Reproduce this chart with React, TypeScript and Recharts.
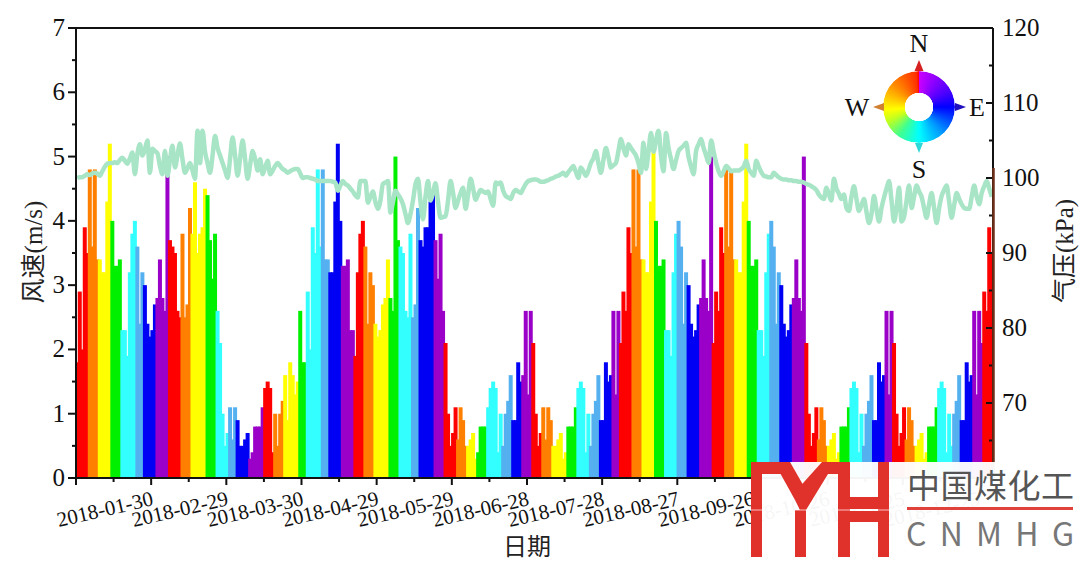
import React from "react";
import { ComposedChart, Bar, Line, XAxis, YAxis } from "recharts";

const windSpeed = [
  1.8,2.9,2.0,3.9,3.5,4.8,3.6,4.8,3.4,3.4,
  3.2,3.2,4.3,5.2,4.0,3.3,3.3,3.4,2.3,2.3,
  1.9,3.2,3.8,4.0,3.6,2.4,3.2,3.0,2.4,2.2,
  2.3,2.7,2.8,3.4,2.8,2.6,5.0,3.7,3.6,3.5,
  2.6,2.5,3.8,2.5,2.7,4.2,3.8,4.6,3.5,3.8,
  3.9,4.5,4.4,3.7,3.1,3.8,2.6,2.1,1.0,0.5,
  0.7,1.1,0.6,1.1,0.9,0.5,0.5,0.6,0.7,0.3,
  0.4,0.8,0.8,0.8,1.1,1.4,1.5,1.4,0.4,1.0,
  0.5,1.0,1.2,1.6,0.9,1.8,1.6,1.3,1.5,2.6,
  1.8,1.8,2.9,2.0,3.9,3.5,4.8,3.6,4.8,3.4,
  3.4,3.2,3.2,4.3,5.2,4.0,3.3,3.3,3.4,2.3,
  2.3,1.9,3.2,3.8,4.0,3.6,2.4,3.2,3.0,2.4,
  2.2,2.3,2.7,2.8,3.4,2.8,2.6,5.0,3.7,3.6,
  3.5,2.6,2.5,3.8,2.5,2.7,4.2,3.7,3.6,3.9,
  3.9,4.3,4.4,3.7,3.1,3.8,2.6,2.1,1.0,0.5,
  0.7,1.1,0.6,1.1,0.9,0.5,0.5,0.6,0.7,0.3,
  0.4,0.8,0.8,0.8,1.1,1.4,1.5,1.4,0.4,1.0,
  0.5,1.0,1.2,1.6,0.9,0.9,1.8,1.5,1.6,2.6,
  1.3,2.6,2.1,1.0,0.5,0.7,1.1,0.6,1.1,0.9,
  0.5,0.5,0.6,0.7,0.3,0.4,0.8,0.8,0.8,1.1,
  1.4,1.5,1.4,0.4,1.0,0.5,1.0,1.2,1.6,0.9,
  0.9,1.8,1.5,1.6,2.6,1.3,2.6,2.1,2.9,2.6,
  3.9,3.5,4.8,3.6,4.8,3.4,3.4,3.2,3.2,4.3,
  5.2,4.0,3.3,3.3,3.4,2.3,2.3,1.9,3.2,3.8,
  4.0,3.6,2.4,3.2,3.0,2.4,2.2,2.3,2.7,2.8,
  3.4,2.8,2.6,5.0,2.1,2.9,2.6,3.9,3.5,4.8,
  3.6,4.8,3.4,3.4,3.2,3.2,4.3,5.2,4.0,3.3,
  3.3,3.4,2.3,2.3,1.9,3.2,3.8,4.0,3.6,2.4,
  3.2,3.0,2.4,2.2,2.3,2.7,2.8,3.4,2.8,2.6,
  5.0,2.1,1.0,0.5,0.7,1.1,0.6,1.1,0.9,0.5,
  0.5,0.6,0.7,0.3,0.4,0.8,0.8,0.8,1.1,1.4,
  1.5,1.4,0.4,1.0,0.5,1.0,1.2,1.6,0.9,0.9,
  1.8,1.5,1.6,2.6,1.3,2.6,2.1,1.0,0.5,0.7,
  1.1,0.6,1.1,0.9,0.5,0.5,0.6,0.7,0.3,0.4,
  0.8,0.8,0.8,1.1,1.4,1.5,1.4,0.4,1.0,0.5,
  1.0,1.2,1.6,0.9,0.9,1.8,1.5,1.6,2.6,1.3,
  2.6,2.1,2.9,2.6,3.9,3.5,
];

const pressure = [
  100.0,100.1,100.1,100.3,100.5,100.4,100.6,100.7,100.6,100.3,
  100.9,101.5,101.9,102.0,102.0,102.1,102.0,102.4,102.7,102.3,
  101.9,102.6,103.4,100.5,103.2,104.5,103.0,103.8,105.0,100.7,
  103.9,103.6,103.3,101.6,100.5,103.6,100.3,102.4,104.3,101.4,
  103.0,104.6,102.5,100.7,101.3,102.0,101.0,99.9,106.3,102.0,
  106.3,103.5,102.0,100.7,103.0,105.6,104.0,103.0,102.0,101.0,
  100.0,102.6,105.4,103.0,100.3,102.6,105.0,102.5,99.9,101.8,
  103.6,102.5,101.0,102.5,100.5,101.4,102.3,100.5,101.0,101.6,
  102.0,101.6,101.2,101.0,100.7,100.9,101.1,101.2,101.2,100.6,
  100.0,100.1,100.1,100.0,99.9,99.8,99.6,99.6,99.6,99.6,
  99.6,99.6,99.5,99.4,98.3,99.0,99.6,99.2,99.0,98.6,
  98.2,97.7,97.4,99.6,99.6,99.6,96.7,97.5,98.2,96.8,
  95.9,97.0,99.2,99.4,99.6,95.4,96.8,98.3,97.8,97.3,
  96.5,95.2,94.0,95.2,97.0,99.2,99.9,96.8,94.5,97.5,
  99.6,97.0,98.0,99.3,96.8,94.7,94.8,94.9,97.0,99.6,
  98.0,96.0,97.0,98.0,98.7,95.9,97.8,99.9,98.6,97.1,
  97.8,98.4,98.2,98.0,98.2,97.2,96.3,99.4,99.2,99.4,
  98.3,97.6,97.4,97.2,98.0,98.4,98.2,98.0,98.6,99.2,
  99.6,99.7,99.8,99.8,99.7,99.5,99.5,99.6,99.7,99.9,
  100.0,100.2,100.3,100.5,100.7,100.3,100.8,101.2,101.6,100.8,
  100.0,101.4,100.9,100.3,101.0,102.0,102.6,103.6,102.0,100.7,
  102.4,104.0,102.8,101.4,101.7,102.0,103.6,105.2,104.0,103.0,
  104.5,104.0,103.5,103.0,102.0,100.7,104.7,101.2,103.5,106.0,
  103.5,105.0,106.3,103.0,100.9,106.0,104.0,102.5,101.2,102.4,
  103.6,104.0,104.3,104.7,102.8,101.5,100.5,103.6,104.5,105.2,
  104.0,103.0,102.0,105.0,103.5,102.0,100.9,100.3,100.9,101.6,
  101.3,100.9,101.0,101.0,101.0,101.2,101.5,102.3,101.2,100.7,
  100.3,102.3,101.5,100.8,100.3,100.2,100.1,100.1,100.7,100.4,
  100.1,99.9,99.8,99.8,99.7,99.7,99.6,99.6,99.5,99.5,
  99.4,99.2,99.1,98.9,98.7,98.4,97.8,97.4,97.2,98.7,
  97.8,97.0,99.9,98.6,97.9,97.2,97.8,96.0,95.6,97.5,
  98.9,97.2,95.6,96.4,97.2,95.5,94.0,95.2,97.6,95.8,
  94.2,96.0,97.4,98.6,99.6,97.0,94.2,96.0,98.7,94.2,
  94.8,97.0,99.0,96.0,97.5,99.0,98.2,97.5,96.0,94.7,
  96.5,98.0,96.0,94.0,96.0,97.6,98.4,99.0,96.8,94.7,
  96.4,98.0,97.2,96.5,96.0,95.9,95.9,97.5,99.0,97.5,
  96.5,98.0,98.9,99.6,98.6,97.5,
];

// day index at which each direction band ends; bands cycle through the compass palette
const bandEnds = [
  5,9,14,18,24,27,32,37,42,46,52,56,61,64,69,75,79,83,89,92,98,101,106,111,115,119,125,129,134,137,
  143,147,152,156,160,164,170,174,178,182,186,190,196,200,205,209,214,217,222,226,231,235,240,244,249,254,259,263,268,272,
  277,281,286,291,296,300,305,309,314,318,323,326,331,335,340,344,350,353,358,362,366,
];
const palette = ["#ff0000", "#ff8000", "#ffff00", "#00f000", "#33ffff", "#55b0f0", "#0000f5", "#9a00c8"];

const tickLabels: Record<number, string> = {
  30: "2018-01-30", 60: "2018-02-29", 90: "2018-03-30", 120: "2018-04-29", 150: "2018-05-29", 180: "2018-06-28",
  210: "2018-07-28", 240: "2018-08-27", 270: "2018-09-26", 300: "2018-10-26", 330: "2018-11-25", 360: "2018-12-25",
};
const xTicks = [0,15,30,45,60,75,90,105,120,135,150,165,180,195,210,225,240,255,270,285,300,315,330,345,360];
const windTicks = [0,0.5,1,1.5,2,2.5,3,3.5,4,4.5,5,5.5,6,6.5,7];
const pressureTicks = [60,65,70,75,80,85,90,95,100,105,110,115,120];
const compassLabels = [
  { t: "N", x: 919, y: 52 },
  { t: "E", x: 977, y: 116 },
  { t: "S", x: 919, y: 178 },
  { t: "W", x: 857, y: 116 },
];

const colorOf = (i: number) => {
  const b = bandEnds.findIndex((e) => i < e);
  return palette[b % palette.length];
};
const rows = windSpeed.map((w, i) => ({ day: i + 0.5, wind: w, pressure: pressure[i], color: colorOf(i) }));

const SERIF = '"Liberation Serif","Noto Sans CJK SC",serif';
const SANS = '"Noto Sans CJK SC","Noto Sans",sans-serif';

const XTick = (p: any) => {
  const v = p.payload.value;
  const major = v % 30 === 0;
  const label = tickLabels[v];
  return (
    <g>
      <line x1={p.x} x2={p.x} y1={p.y} y2={p.y + (major ? 7 : 4)} stroke="#111" strokeWidth={2} />
      {label && (
        <text x={p.x + 3} y={p.y + 27} textAnchor="end" fontFamily={SERIF} fontSize={21} fill="#111"
          transform={`rotate(-13 ${p.x + 3} ${p.y + 27})`}>{label}</text>
      )}
    </g>
  );
};
const LeftTick = (p: any) => {
  const v = p.payload.value;
  const major = Number.isInteger(v);
  return (
    <g>
      <line x1={p.x} x2={p.x - (major ? 8 : 4)} y1={p.y} y2={p.y} stroke="#111" strokeWidth={2} />
      {major && <text x={p.x - 11} y={p.y + 8} textAnchor="end" fontFamily={SERIF} fontSize={25} fill="#111">{v}</text>}
    </g>
  );
};
const RightTick = (p: any) => {
  const v = p.payload.value;
  const major = v % 10 === 0;
  return (
    <g>
      <line x1={p.x} x2={p.x - (major ? 7 : 4)} y1={p.y} y2={p.y} stroke="#111" strokeWidth={2} />
      {major && v !== 60 && <text x={p.x + 9} y={p.y + 8} textAnchor="start" fontFamily={SERIF} fontSize={25} fill="#111">{v}</text>}
    </g>
  );
};
const WideBar = (p: any) => (
  <rect x={p.x + p.width / 2 - 2} y={p.y} width={4} height={p.height} fill={p.payload.color} />
);

const Compass = () => (
  <>
    <div style={{
      position: "absolute", left: 883, top: 71, width: 72, height: 72, borderRadius: "50%",
      background: "conic-gradient(#cc00ff 0deg,#5000ff 60deg,#0000ff 90deg,#0090ff 135deg,#00ffff 180deg,#40ff90 215deg,#c0ff20 245deg,#ffff00 265deg,#ff9000 310deg,#ff3000 355deg,#ff0000 360deg)",
      WebkitMask: "radial-gradient(circle, transparent 14px, #000 14.5px)",
      mask: "radial-gradient(circle, transparent 14px, #000 14.5px)",
    }} />
    <svg width={1080} height={562} style={{ position: "absolute", left: 0, top: 0, pointerEvents: "none" }}>
      <polygon points="919,60 914.5,71 923.5,71" fill="#d62020" />
      <polygon points="966,107 955,103 955,111" fill="#2010c0" />
      <polygon points="919,153 915,143 923,143" fill="#30d8d8" />
      <polygon points="873,107 884,103 884,111" fill="#d08030" />
      {compassLabels.map((c) => (
        <text key={c.t} x={c.x} y={c.y} textAnchor="middle" fontFamily={SERIF} fontSize={26} fill="#111">{c.t}</text>
      ))}
      <line x1={993.5} x2={993.5} y1={168} y2={478} stroke="#6e2e18" strokeWidth={2.5} />
      <text x={0} y={0} transform="translate(42 252) rotate(-90)" textAnchor="middle" fontFamily={SERIF} fontSize={25} fill="#222">风速(m/s)</text>
      <text x={0} y={0} transform="translate(1073 251) rotate(-90)" textAnchor="middle" fontFamily={SERIF} fontSize={25} fill="#222">气压(kPa)</text>
      <text x={527} y={555} textAnchor="middle" fontFamily={SERIF} fontSize={24} fill="#222">日期</text>
      <rect x={751} y={462} width={329} height={100} fill="#fff" opacity={0.96} />
      <g fill="#e0312b">
        <rect x={751} y={462} width={11} height={95} />
        <rect x={751} y={462} width={36} height={12} />
        <rect x={795} y={510} width={11} height={47} />
        <polygon points="774,462 790,462 806,490 800,510 795,500" />
        <polygon points="800,510 795,492 822,462 850,462 850,474 828,474 806,510" />
        <rect x={838} y={462} width={12} height={95} />
        <rect x={878} y={462} width={11} height={95} />
        <rect x={850} y={497} width={28} height={12} />
        <rect x={838} y={511} width={51} height={11} />
      </g>
      <line x1={751} x2={890} y1={510} y2={510} stroke="#fff" strokeWidth={1} opacity={0.7} />
      <text x={907} y={498} fontFamily={SANS} fontSize={33} fill="#555" textLength={167}>中国煤化工</text>
      <rect x={907} y={507} width={166} height={3} fill="#e0413b" />
      <text x={906} y={546} fontFamily={SANS} fontSize={32} fill="#777" textLength={168}>CNMHG</text>
    </svg>
  </>
);

export default function App() {
  return (
    <div style={{ position: "fixed", left: 0, top: 0, width: 1080, height: 562, background: "#fff", overflow: "hidden" }}>
      <ComposedChart width={1080} height={562} data={rows} margin={{ top: 8, right: 37, bottom: 34, left: 26 }}>
        <XAxis dataKey="day" type="number" scale="linear" domain={[0, 366]} ticks={xTicks} interval={0} height={50}
          tickSize={0} tickMargin={0} tickLine={false} tick={<XTick />} axisLine={{ stroke: "#111", strokeWidth: 2 }} />
        <XAxis xAxisId="top" orientation="top" dataKey="day" type="number" scale="linear" domain={[0, 366]} height={20}
          tick={false} tickLine={false} axisLine={{ stroke: "#111", strokeWidth: 2 }} />
        <YAxis yAxisId="wind" domain={[0, 7]} ticks={windTicks} interval={0} width={50} tickSize={0} tickMargin={0}
          tickLine={false} tick={<LeftTick />} axisLine={{ stroke: "#111", strokeWidth: 2 }} />
        <YAxis yAxisId="pressure" orientation="right" domain={[60, 120]} ticks={pressureTicks} interval={0} width={50}
          tickSize={0} tickMargin={0} tickLine={false} tick={<RightTick />} axisLine={{ stroke: "#111", strokeWidth: 2 }} />
        <Bar yAxisId="wind" dataKey="wind" shape={<WideBar />} isAnimationActive={false} />
        <Line yAxisId="pressure" type="monotone" dataKey="pressure" stroke="#a8e4c6" strokeWidth={4.5} dot={false} isAnimationActive={false} />
      </ComposedChart>
      <Compass />
    </div>
  );
}
